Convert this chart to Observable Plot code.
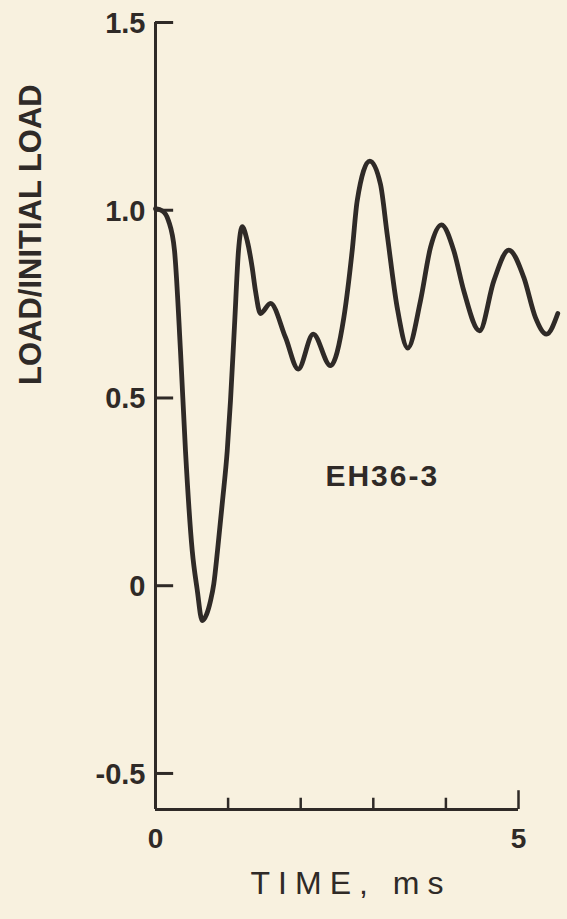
<!DOCTYPE html>
<html>
<head>
<meta charset="utf-8">
<script src="https://cdn.jsdelivr.net/npm/d3@7"></script>
<script src="https://cdn.jsdelivr.net/npm/@observablehq/plot@0.6"></script>
<style>
  html, body { margin: 0; padding: 0; background: #f8f1df; }
  #chart svg { display: block; }
</style>
</head>
<body>
<div id="chart"></div>
<script>
// ---- data ----
const timeMs = [0.000, 0.096, 0.179, 0.262, 0.344, 0.413, 0.506, 0.574, 0.643, 0.702, 0.758, 0.803, 0.854, 0.923, 0.988, 1.033, 1.088, 1.143, 1.194,
  1.263, 1.332, 1.377, 1.446, 1.584, 1.791, 1.966, 2.172, 2.410, 2.594, 2.709, 2.778, 2.952,
  3.099, 3.191, 3.329, 3.475, 3.650, 3.788, 3.939, 4.109, 4.247, 4.463, 4.660, 4.866, 5.073, 5.234, 5.386, 5.541];
const loadRatio = [1.004, 0.998, 0.972, 0.892, 0.626, 0.359, 0.093, -0.010, -0.093, -0.077, -0.040, 0.005, 0.093, 0.226, 0.359, 0.493, 0.692, 0.892, 0.956,
  0.919, 0.847, 0.785, 0.725, 0.752, 0.661, 0.577, 0.670, 0.586, 0.714, 0.892, 1.025, 1.131,
  1.069, 0.936, 0.741, 0.633, 0.759, 0.901, 0.961, 0.892, 0.785, 0.679, 0.812, 0.894, 0.821, 0.714, 0.670, 0.725];
const yTicks = [1.5, 1.0, 0.5, 0, -0.5];
const yTickLabels = ["1.5", "1.0", "0.5", "0", "-0.5"];
const xMinorTicks = [1, 2, 3, 4];
const xEndTick = [5];
const xTickLabelValues = [0, 5];
const xTickLabels = ["0", "5"];
const xTitle = "TIME, ms";
const yTitle = "LOAD/INITIAL LOAD";
const yTitleAt = {t: -1.72, v: 0.935};
const specimen = "EH36-3";
const specimenAt = {t: 2.34, v: 0.29};
const yDomain = [-0.596, 1.5];
const xDomain = [0, 5];

const data = timeMs.map((t, i) => ({t, v: loadRatio[i]}));
const ink = "#2f2a27";
const yMin = yDomain[0];

const chart = Plot.plot({
  width: 567,
  height: 919,
  marginLeft: 155,
  marginRight: 49,
  marginTop: 22,
  marginBottom: 110,
  style: {background: "#f8f1df", fontFamily: "'Liberation Sans', Arial, sans-serif", color: ink},
  x: {domain: xDomain, axis: null},
  y: {domain: yDomain, axis: null},
  marks: [
    // axis frame
    Plot.ruleX([0], {y1: yMin, y2: 1.5, stroke: ink, strokeWidth: 3}),
    Plot.ruleY([yMin], {x1: 0, x2: 5, stroke: ink, strokeWidth: 3}),
    // inward y ticks
    Plot.ruleY(yTicks, {x1: 0, x2: 0.25, stroke: ink, strokeWidth: 3}),
    // upward x ticks
    Plot.ruleX(xMinorTicks, {y1: yMin, y2: yMin + 0.03, stroke: ink, strokeWidth: 2.5}),
    Plot.ruleX(xEndTick, {y1: yMin, y2: yMin + 0.05, stroke: ink, strokeWidth: 2.5}),
    // tick labels
    Plot.text(yTicks, {x: 0, y: d => d, text: (d, i) => yTickLabels[i], textAnchor: "end", dx: -10, dy: 1,
      fontSize: 29, fontWeight: "bold", fill: ink}),
    Plot.text(xTickLabelValues, {x: d => d, y: yMin, text: (d, i) => xTickLabels[i], dy: 30,
      fontSize: 28, fontWeight: "bold", fill: ink}),
    // curve
    Plot.line(data, {x: "t", y: "v", curve: "monotone-x", stroke: ink, strokeWidth: 4.8,
      strokeLinejoin: "round", strokeLinecap: "round"}),
    // specimen label
    Plot.text([specimen], {x: specimenAt.t, y: specimenAt.v, text: d => d, textAnchor: "start",
      fontSize: 30, fill: ink, fontWeight: "bold"}),
    // axis titles
    Plot.text([yTitle], {x: yTitleAt.t, y: yTitleAt.v, rotate: -90, text: d => d,
      fontSize: 31, fontWeight: "bold", fill: ink}),
    Plot.text([xTitle], {frameAnchor: "bottom", dx: 14, dy: 84, text: d => d,
      fontSize: 32, fill: ink})
  ]
});

d3.select(chart).selectAll("text").filter(function() { return this.textContent === xTitle; })
  .style("letter-spacing", "8px");
d3.select(chart).selectAll("text").filter(function() { return this.textContent === specimen; })
  .style("letter-spacing", "2px");

document.getElementById("chart").appendChild(chart);
</script>
</body>
</html>
